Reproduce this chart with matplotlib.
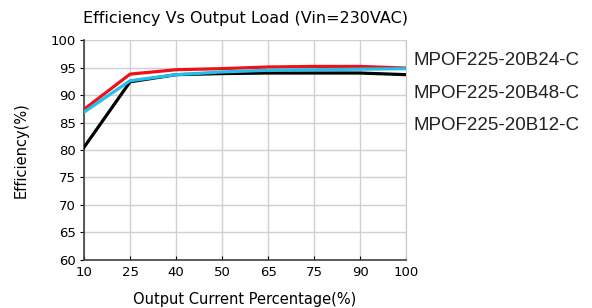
import matplotlib
matplotlib.use("Agg")
import matplotlib.pyplot as plt

loads = ["10", "25", "40", "50", "65", "75", "90", "100"]
eff_b24 = [87.4, 93.8, 94.6, 94.8, 95.1, 95.2, 95.2, 94.9]
eff_b48 = [86.9, 92.6, 93.7, 94.2, 94.5, 94.6, 94.7, 94.8]
eff_b12 = [80.5, 92.4, 93.7, 93.9, 94.0, 94.0, 94.0, 93.7]
models = ["MPOF225-20B24-C", "MPOF225-20B48-C", "MPOF225-20B12-C"]

fig = plt.figure(figsize=(5.92, 3.08), dpi=100)
ax = fig.add_axes([0.142, 0.156, 0.544, 0.714])

x = range(len(loads))
ax.plot(x, eff_b12, color="black", lw=2.3, zorder=3)
ax.plot(x, eff_b24, color="#f01018", lw=2.3, zorder=4)
ax.plot(x, eff_b48, color="#20c0ec", lw=2.3, zorder=5)

ax.set_xlim(0, len(loads) - 1)
ax.set_ylim(60, 100)
ax.set_xticks(list(x))
ax.set_xticklabels(loads)
ax.set_yticks(range(60, 101, 5))
ax.grid(True, color="#d0d0d0", lw=1)
ax.set_axisbelow(True)

ax.spines["top"].set_visible(False)
ax.spines["right"].set_color("#c8c8c8")
ax.spines["left"].set_color("#404040")
ax.spines["bottom"].set_color("#404040")
ax.spines["left"].set_linewidth(1.2)
ax.spines["bottom"].set_linewidth(1.2)
ax.tick_params(axis="x", direction="in", length=3, labelsize=9.5, pad=4)
ax.tick_params(axis="y", direction="out", length=3, labelsize=9.5, pad=3)

ax.set_title("Efficiency Vs Output Load (Vin=230VAC)", fontsize=11.5, pad=12)
ax.set_xlabel("Output Current Percentage(%)", fontsize=10.5, labelpad=10)
ax.set_ylabel("Efficiency(%)", fontsize=10.5, labelpad=16)

for i, m in enumerate(models):
    fig.text(0.699, 0.802 - i * 0.104, m, fontsize=13.5, family="Liberation Sans",
             color="#222222", va="center")

fig.savefig("out.png", dpi=100)
